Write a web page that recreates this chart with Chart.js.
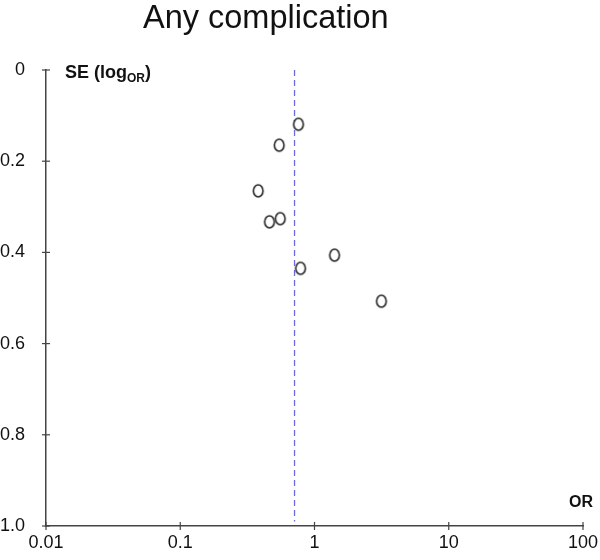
<!DOCTYPE html>
<html>
<head>
<meta charset="utf-8">
<script src="https://cdn.jsdelivr.net/npm/chart.js@4/dist/chart.umd.min.js"></script>
<style>
  html, body { margin: 0; padding: 0; background: #fff; }
  #wrap { width: 600px; height: 560px; position: relative; }
</style>
</head>
<body>
<div id="wrap"><canvas id="c" width="600" height="560"></canvas></div>
<script>
// ---- data ----
const titleText = 'Any complication';
const studyOR = [0.76, 0.546, 0.381, 0.462, 0.556, 1.41, 0.787, 3.15];
const studySE = [0.119, 0.165, 0.265, 0.333, 0.326, 0.406, 0.435, 0.507];
const pooledOR = 0.71;
const pooledLineSE = [0, 0.99];
const xTickValues = [0.01, 0.1, 1, 10, 100];
const xTickLabels = ['0.01', '0.1', '1', '10', '100'];
const yTickValues = [0, 0.2, 0.4, 0.6, 0.8, 1.0];
const yTickLabels = ['0', '0.2', '0.4', '0.6', '0.8', '1.0'];

const FONT = '"Liberation Sans", Arial, Helvetica, sans-serif';

const points = studyOR.map((v, i) => ({ x: v, y: studySE[i] }));
const pooledLine = pooledLineSE.map(s => ({ x: pooledOR, y: s }));

// elliptical open marker
const marker = document.createElement('canvas');
marker.width = 14; marker.height = 16;
(function () {
  const m = marker.getContext('2d');
  m.fillStyle = '#fff';
  m.strokeStyle = '#222';
  m.lineWidth = 1.6;
  m.beginPath();
  m.ellipse(7, 8, 4.8, 6, 0, 0, Math.PI * 2);
  m.fill(); m.stroke();
})();

const decorPlugin = {
  id: 'decor',
  afterDraw(chart) {
    const ctx = chart.ctx;
    const xs = chart.scales.x, ys = chart.scales.y;
    ctx.save();
    ctx.strokeStyle = '#444';
    ctx.lineWidth = 1.2;
    const ax = xs.left, ay = ys.bottom;
    yTickValues.forEach(v => {
      const py = ys.getPixelForValue(v);
      ctx.beginPath(); ctx.moveTo(ax - 4, py); ctx.lineTo(ax + 4, py); ctx.stroke();
    });
    xTickValues.forEach(v => {
      const px = xs.getPixelForValue(v);
      ctx.beginPath(); ctx.moveTo(px, ay - 4); ctx.lineTo(px, ay + 4); ctx.stroke();
    });
    ctx.fillStyle = '#111';
    ctx.textBaseline = 'alphabetic';
    ctx.textAlign = 'left';
    ctx.font = '32.5px ' + FONT;
    ctx.fillText(titleText, 143, 28);
    ctx.font = 'bold 18px ' + FONT;
    let x = 65;
    const base = 78;
    ctx.fillText('SE (log', x, base);
    x += ctx.measureText('SE (log').width;
    ctx.font = 'bold 12px ' + FONT;
    ctx.fillText('OR', x, base + 4);
    x += ctx.measureText('OR').width;
    ctx.font = 'bold 18px ' + FONT;
    ctx.fillText(')', x, base);
    ctx.font = 'bold 16px ' + FONT;
    ctx.textAlign = 'right';
    ctx.fillText('OR', 593, 507);
    ctx.restore();
  }
};

new Chart(document.getElementById('c'), {
  type: 'scatter',
  data: {
    datasets: [
      {
        type: 'line',
        data: pooledLine,
        borderColor: '#6b6be0',
        borderWidth: 1.3,
        borderDash: [6, 4],
        pointRadius: 0,
        fill: false,
        order: 2
      },
      {
        data: points,
        pointStyle: marker,
        pointRadius: 7,
        order: 1
      }
    ]
  },
  options: {
    responsive: false,
    animation: false,
    devicePixelRatio: 1,
    layout: { padding: { top: 70, right: 17, left: 0, bottom: 0 } },
    plugins: { legend: { display: false }, tooltip: { enabled: false }, title: { display: false } },
    scales: {
      x: {
        type: 'logarithmic',
        min: 0.01, max: 100,
        afterBuildTicks(s) { s.ticks = xTickValues.map(v => ({ value: v })); },
        afterFit(s) { s.height = 34; s.paddingRight = 0; s.paddingLeft = 0; },
        ticks: {
          autoSkip: false, maxRotation: 0,
          padding: 6,
          color: '#111',
          font: { family: FONT, size: 18 },
          callback(v) { const i = xTickValues.indexOf(v); return i >= 0 ? xTickLabels[i] : ''; }
        },
        grid: { drawOnChartArea: false, drawTicks: false, tickLength: 4 },
        border: { color: '#444', width: 1.5 }
      },
      y: {
        reverse: true,
        min: 0, max: 1,
        afterBuildTicks(s) { s.ticks = yTickValues.map(v => ({ value: v })); },
        afterFit(s) { s.width = 46; },
        ticks: {
          autoSkip: false,
          padding: 21,
          color: '#111',
          font: { family: FONT, size: 18 },
          callback(v) { const i = yTickValues.findIndex(t => Math.abs(t - v) < 1e-9); return i >= 0 ? yTickLabels[i] : ''; }
        },
        grid: { drawOnChartArea: false, drawTicks: false, tickLength: 4 },
        border: { color: '#444', width: 1.5 }
      }
    }
  },
  plugins: [decorPlugin]
});
</script>
</body>
</html>
